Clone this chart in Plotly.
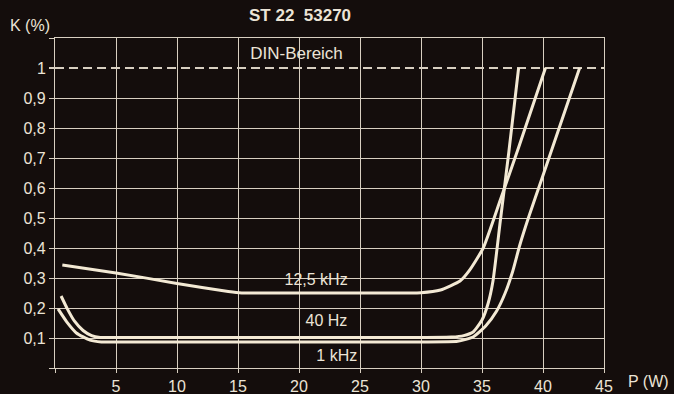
import plotly.graph_objects as go

# ---- data ----
x_12k5 = [0.6, 5, 10, 14.2, 15.3, 17, 20, 25, 30, 31.6, 33.2, 34.0, 35.1, 36.5, 38.0, 40.2]
y_12k5 = [0.343, 0.317, 0.282, 0.255, 0.25, 0.25, 0.25, 0.25, 0.251, 0.26, 0.29, 0.327, 0.40, 0.56, 0.735, 1.0]

x_40hz = [0.5, 1.0, 1.6, 2.3, 3.0, 3.7, 5, 10, 20, 30, 32.5, 33.5, 34.3, 35.0, 35.5, 35.9, 36.5, 37.2, 38.0]
y_40hz = [0.24, 0.198, 0.156, 0.125, 0.108, 0.102, 0.102, 0.102, 0.102, 0.102, 0.103, 0.108, 0.121, 0.16, 0.215, 0.29, 0.49, 0.72, 1.0]

x_1khz = [0.25, 0.96, 1.78, 2.87, 3.8, 5, 10, 20, 30, 33.0, 34.3, 35.3, 36.2, 36.9, 37.5, 38.1, 38.8, 39.9, 43.0]
y_1khz = [0.197, 0.154, 0.116, 0.093, 0.087, 0.087, 0.087, 0.087, 0.087, 0.089, 0.104, 0.14, 0.19, 0.25, 0.32, 0.41, 0.50, 0.63, 1.0]

x_ticks = [0, 5, 10, 15, 20, 25, 30, 35, 40, 45]
x_ticktext = ["", "5", "10", "15", "20", "25", "30", "35", "40", "45"]
y_ticks = [0, 0.1, 0.2, 0.3, 0.4, 0.5, 0.6, 0.7, 0.8, 0.9, 1.1]
y_ticktext = ["", "0,1", "0,2", "0,3", "0,4", "0,5", "0,6", "0,7", "0,8", "0,9", ""]
din_level = [1.0]
din_text = ["1"]

curve_labels = ["12,5 kHz", "40 Hz", "1 kHz"]
label_x = [21.4, 22.25, 23.1]
label_y = [0.29, 0.153, 0.037]

# ---- styling ----
BG = "#140d0c"
GRID = "#d8cfc1"
CURVE = "#f3e9d4"
TEXT = "#ece4d6"
FONT = "Liberation Sans, Arial, sans-serif"

fig = go.Figure()

for xs, ys in [(x_12k5, y_12k5), (x_40hz, y_40hz), (x_1khz, y_1khz)]:
    fig.add_trace(go.Scatter(
        x=xs, y=ys, mode="lines",
        line=dict(color=CURVE, width=3, shape="spline", smoothing=0.5),
        hoverinfo="skip", showlegend=False))

fig.add_trace(go.Scatter(
    x=label_x, y=label_y, mode="text", text=curve_labels,
    textfont=dict(family=FONT, size=16, color=TEXT),
    hoverinfo="skip", showlegend=False))

# DIN-Bereich label on the secondary y axis (which carries the dashed 1,0 line)
fig.add_trace(go.Scatter(
    x=[19.8], y=[1.043], mode="text", text=["DIN-Bereich"], yaxis="y2",
    textfont=dict(family=FONT, size=17, color=TEXT),
    hoverinfo="skip", showlegend=False))

fig.update_layout(
    width=674, height=394,
    margin=dict(l=55, r=70, t=38, b=26),
    paper_bgcolor=BG, plot_bgcolor=BG,
    font=dict(family=FONT, size=16, color=TEXT),
    xaxis=dict(
        range=[0, 45], tickvals=x_ticks, ticktext=x_ticktext, automargin=False,
        showgrid=True, gridcolor=GRID, gridwidth=1.3,
        ticks="outside", ticklen=4, tickcolor=GRID, tickwidth=1.3,
        showline=True, linecolor=GRID, linewidth=1.3, mirror=True,
        zeroline=False, tickfont=dict(size=16, color=TEXT),
    ),
    yaxis=dict(
        range=[0, 1.1], tickvals=y_ticks, ticktext=y_ticktext, automargin=False,
        showgrid=True, gridcolor=GRID, gridwidth=1.3,
        ticks="outside", ticklen=5, tickcolor=GRID, tickwidth=1.3,
        showline=True, linecolor=GRID, linewidth=1.3, mirror=True,
        zeroline=False, tickfont=dict(size=16, color=TEXT),
    ),
    yaxis2=dict(
        range=[0, 1.1], overlaying="y", side="left", automargin=False,
        tickvals=din_level, ticktext=din_text,
        showgrid=True, gridcolor=GRID, gridwidth=1.8, griddash="9px,5px",
        ticks="outside", ticklen=5, tickcolor=GRID, tickwidth=1.8,
        showline=False, zeroline=False, tickfont=dict(size=16, color=TEXT),
    ),
    annotations=[
        dict(text="<b>ST 22\u00a0\u00a053270</b>", x=300, y=394 - 15,
             showarrow=False, font=dict(size=17, color=TEXT)),
        dict(text="K (%)", x=8, y=394 - 25, showarrow=False, xanchor="left",
             font=dict(size=16, color=TEXT)),
        dict(text="P (W)", x=671, y=394 - 381, showarrow=False, xanchor="right",
             font=dict(size=16, color=TEXT)),
    ],
)

# convert pixel-placed annotations to paper coordinates
W, H = 674, 394
l, r, t, b = 55, 70, 38, 26
pw, ph = W - l - r, H - t - b
anns = []
for a in fig.layout.annotations:
    a = a.to_plotly_json()
    a["x"] = (a["x"] - l) / pw
    a["y"] = (a["y"] - b) / ph
    a["xref"] = "paper"
    a["yref"] = "paper"
    a["yanchor"] = "middle"
    anns.append(a)
fig.layout.annotations = anns

fig.write_html("out.html")
